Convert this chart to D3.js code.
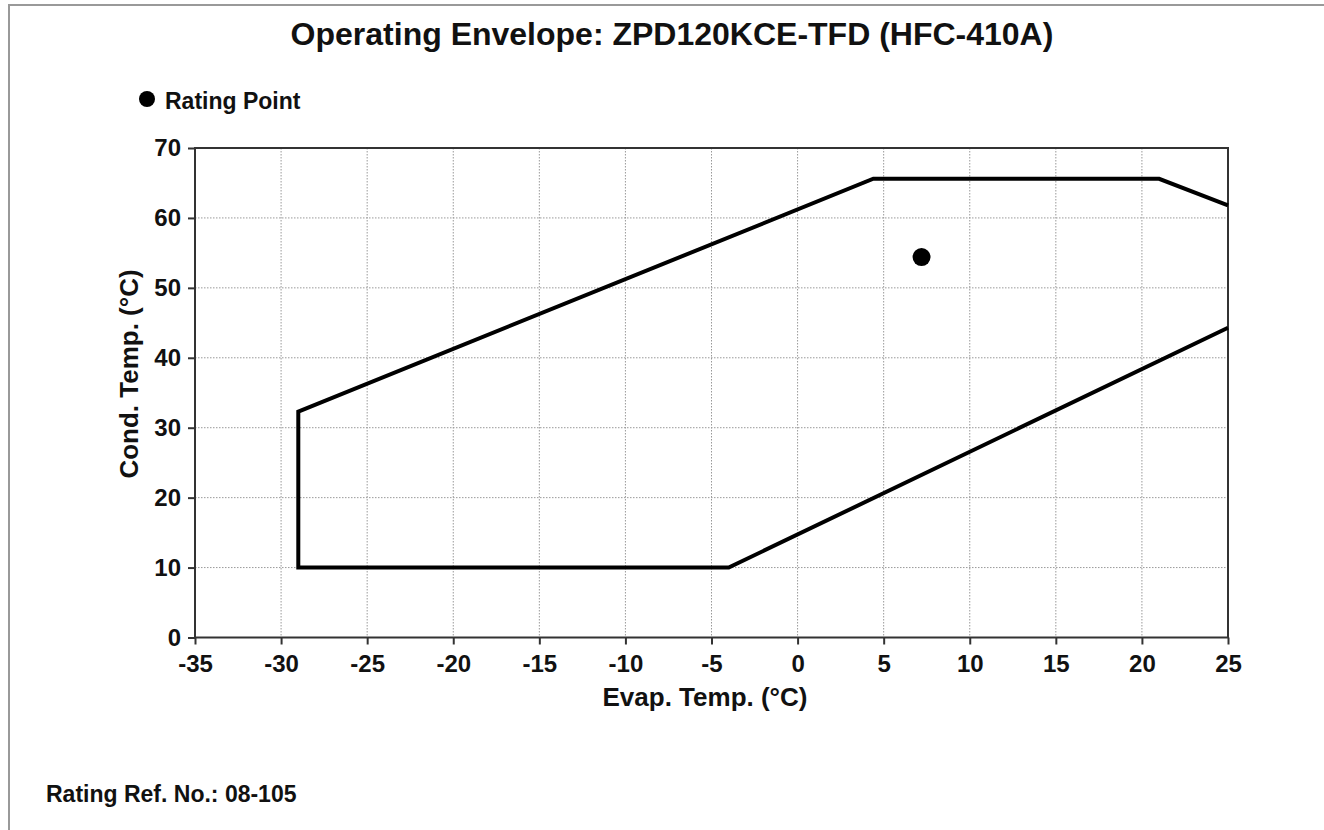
<!DOCTYPE html>
<html>
<head>
<meta charset="utf-8">
<script src="https://cdn.jsdelivr.net/npm/d3@7"></script>
<style>
  body { margin: 0; background: #fff; }
  text { font-family: "Liberation Sans", Arial, sans-serif; font-weight: bold; fill: #111; }
</style>
</head>
<body>
<div id="chart"></div>
<script>
// Chart data
const chartTitle = "Operating Envelope: ZPD120KCE-TFD (HFC-410A)";
const xTicks = [-35, -30, -25, -20, -15, -10, -5, 0, 5, 10, 15, 20, 25];
const yTicks = [0, 10, 20, 30, 40, 50, 60, 70];
const envelopeEvap = [25, -4, -29, -29, 4.4, 21, 25];
const envelopeCond = [44.3, 10, 10, 32.3, 65.6, 65.6, 61.8];
const ratingPoint = [7.2, 54.4];
const refNo = "Rating Ref. No.: 08-105";

const W = 1324, H = 830;
const margin = { left: 195, right: 1228, top: 148, bottom: 637.5 };

const svg = d3.select("#chart")
  .append("svg")
  .attr("width", W)
  .attr("height", H);

// outer frame (top + left only)
svg.append("path")
  .attr("d", `M9,${H} V5 H${W}`)
  .attr("fill", "none")
  .attr("stroke", "#999")
  .attr("stroke-width", 2);

const x = d3.scaleLinear().domain([-35, 25]).range([margin.left, margin.right]);
const y = d3.scaleLinear().domain([0, 70]).range([margin.bottom, margin.top]);

// grid
svg.append("g")
  .selectAll("line")
  .data(xTicks.slice(1, -1))
  .enter()
  .append("line")
  .attr("x1", d => x(d)).attr("x2", d => x(d))
  .attr("y1", y(70)).attr("y2", y(0))
  .attr("stroke", "#999")
  .attr("stroke-dasharray", "1.5,1.5");

svg.append("g")
  .selectAll("line")
  .data(yTicks.slice(1, -1))
  .enter()
  .append("line")
  .attr("x1", x(-35)).attr("x2", x(25))
  .attr("y1", d => y(d)).attr("y2", d => y(d))
  .attr("stroke", "#999")
  .attr("stroke-dasharray", "1.5,1.5");

// axes
const fmt = d => String(d); // plain hyphen minus
const xAxis = svg.append("g")
  .attr("transform", `translate(0,${y(0)})`)
  .call(d3.axisBottom(x).tickValues(xTicks).tickFormat(fmt).tickSize(7).tickPadding(10));
const yAxis = svg.append("g")
  .attr("transform", `translate(${x(-35)},0)`)
  .call(d3.axisLeft(y).tickValues(yTicks).tickFormat(fmt).tickSize(7).tickPadding(7));

[xAxis, yAxis].forEach(g => {
  g.select(".domain").remove();
  g.selectAll(".tick line").attr("stroke", "#333").attr("stroke-width", 2);
  g.selectAll(".tick text")
    .attr("font-size", 24)
    .attr("font-family", "Liberation Sans, Arial, sans-serif")
    .attr("font-weight", "bold")
    .attr("fill", "#111");
});

// plot box
svg.append("rect")
  .attr("x", x(-35)).attr("y", y(70))
  .attr("width", x(25) - x(-35))
  .attr("height", y(0) - y(70))
  .attr("fill", "none")
  .attr("stroke", "#333")
  .attr("stroke-width", 2);

// envelope
const line = d3.line()
  .x(i => x(envelopeEvap[i]))
  .y(i => y(envelopeCond[i]));

svg.append("path")
  .attr("d", line(d3.range(envelopeEvap.length)))
  .attr("fill", "none")
  .attr("stroke", "#000")
  .attr("stroke-width", 4);

// rating point
svg.append("circle")
  .attr("cx", x(ratingPoint[0]))
  .attr("cy", y(ratingPoint[1]))
  .attr("r", 9)
  .attr("fill", "#000");

// legend
svg.append("circle").attr("cx", 147).attr("cy", 99).attr("r", 8).attr("fill", "#000");
svg.append("text").attr("x", 165).attr("y", 109).attr("font-size", 23).text("Rating Point");

// titles
svg.append("text")
  .attr("x", 672).attr("y", 45)
  .attr("text-anchor", "middle")
  .attr("font-size", 32)
  .text(chartTitle);

svg.append("text")
  .attr("x", 705).attr("y", 706)
  .attr("text-anchor", "middle")
  .attr("font-size", 26)
  .text("Evap. Temp. (°C)");

svg.append("text")
  .attr("transform", "translate(138,374) rotate(-90)")
  .attr("text-anchor", "middle")
  .attr("font-size", 26)
  .text("Cond. Temp. (°C)");

svg.append("text")
  .attr("x", 46).attr("y", 802)
  .attr("font-size", 23)
  .text(refNo);
</script>
</body>
</html>
